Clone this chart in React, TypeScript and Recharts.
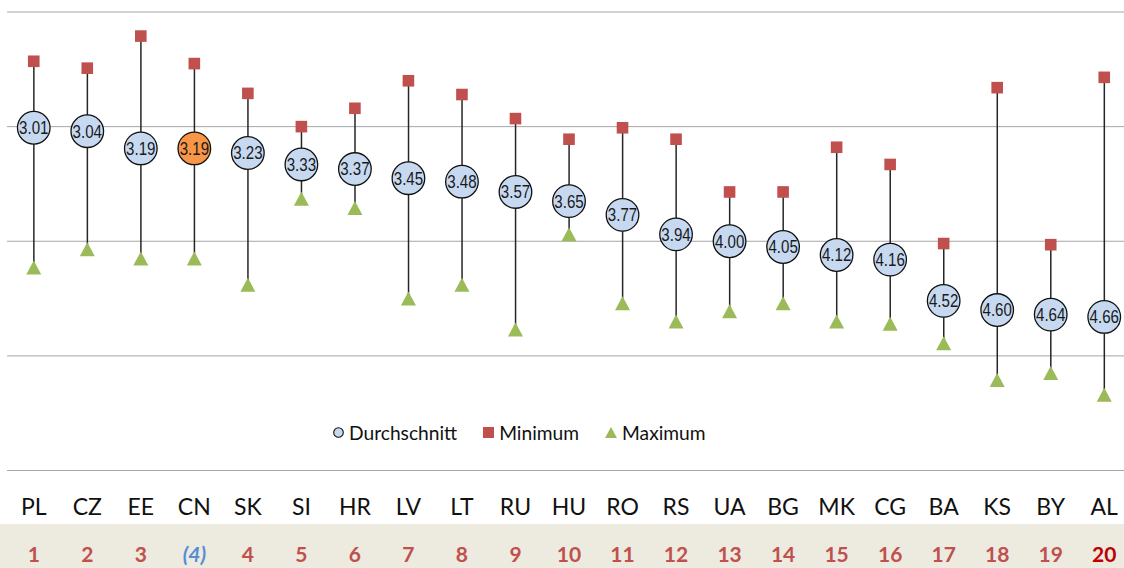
import React from 'react';
import { ComposedChart, Bar, Scatter, XAxis, YAxis, CartesianGrid, Legend } from 'recharts';

const categories = ['PL', 'CZ', 'EE', 'CN', 'SK', 'SI', 'HR', 'LV', 'LT', 'RU', 'HU', 'RO', 'RS', 'UA', 'BG', 'MK', 'CG', 'BA', 'KS', 'BY', 'AL'];
const ranks = ['1', '2', '3', '(4)', '4', '5', '6', '7', '8', '9', '10', '11', '12', '13', '14', '15', '16', '17', '18', '19', '20'];
const average = [3.01, 3.04, 3.19, 3.19, 3.23, 3.33, 3.37, 3.45, 3.48, 3.57, 3.65, 3.77, 3.94, 4.0, 4.05, 4.12, 4.16, 4.52, 4.6, 4.64, 4.66];
const minimum = [2.43, 2.49, 2.21, 2.45, 2.71, 3.0, 2.84, 2.6, 2.72, 2.93, 3.11, 3.01, 3.11, 3.57, 3.57, 3.18, 3.33, 4.02, 2.66, 4.03, 2.57];
const maximum = [4.23, 4.07, 4.15, 4.15, 4.38, 3.63, 3.71, 4.5, 4.38, 4.77, 3.94, 4.54, 4.7, 4.61, 4.54, 4.7, 4.72, 4.89, 5.21, 5.15, 5.34];
const yTicks = [2, 3, 4, 5, 6];
const highlight = 'CN';

const data = categories.map((cat, i) => ({
    cat,
    rank: ranks[i],
    avg: average[i],
    min: minimum[i],
    max: maximum[i],
    range: [minimum[i], maximum[i]],
}));

const RangeLine = (props: any) => {
    const { x, y, width, height } = props;
    const cx = x + width / 2;
    return <line x1={cx} x2={cx} y1={y} y2={y + height} stroke="#262626" strokeWidth={1.5} />;
};

const MinMarker = (props: any) => {
    const { cx, cy } = props;
    return <rect x={cx - 5.8} y={cy - 5.8} width={11.6} height={11.6} fill="#C0504D" />;
};

const MaxMarker = (props: any) => {
    const { cx, cy } = props;
    return <polygon points={`${cx},${cy - 7} ${cx - 7.5},${cy + 7} ${cx + 7.5},${cy + 7}`} fill="#9BBB59" />;
};

// narrow look: regular sans squeezed horizontally
const AvgMarker = (props: any) => {
    const { cx, cy, payload } = props;
    const fill = payload.cat === highlight ? '#F79646' : '#C6D9F1';
    return (
        <g>
            <circle cx={cx} cy={cy} r={16.3} fill={fill} stroke="#111" strokeWidth={1.3} />
            <text
                transform={`translate(${cx},${cy}) scale(0.84,1)`}
                x={0}
                y={0}
                dy={6.4}
                textAnchor="middle"
                fontSize={18}
                fontFamily="'Liberation Sans', Arial, sans-serif"
                fill="#1a1a1a"
            >
                {payload.avg.toFixed(2)}
            </text>
        </g>
    );
};

const CategoryTick = (props: any) => {
    const { x, y, payload } = props;
    const i = categories.indexOf(payload.value);
    const rank = ranks[i];
    let color = '#C0504D';
    if (rank === '20') color = '#C00000';
    if (rank === '(4)') color = '#558ED5';
    return (
        <g>
            <text x={x} y={y + 44.5} textAnchor="middle" fontSize={23} fill="#111" fontFamily="Lato">
                {payload.value}
            </text>
            <text
                x={x}
                y={y + 91.5}
                textAnchor="middle"
                fontSize={21}
                fontWeight="bold"
                fontStyle={rank === '(4)' ? 'italic' : 'normal'}
                fill={color}
                fontFamily="Lato"
            >
                {rank}
            </text>
        </g>
    );
};

const LegendContent = () => (
    <div style={{ display: 'flex', alignItems: 'center', fontFamily: 'Lato', fontSize: 19.2, color: '#111', whiteSpace: 'nowrap' }}>
        <svg width={11} height={11} style={{ marginRight: 5 }}>
            <circle cx={5.5} cy={5.5} r={4.8} fill="#C6D9F1" stroke="#111" strokeWidth={1.1} />
        </svg>
        <span style={{ marginRight: 26 }}>Durchschnitt</span>
        <svg width={11} height={11} style={{ marginRight: 5 }}>
            <rect x={0} y={0} width={11} height={11} fill="#C0504D" />
        </svg>
        <span style={{ marginRight: 26 }}>Minimum</span>
        <svg width={12} height={11} style={{ marginRight: 5 }}>
            <polygon points="6,0 0,11 12,11" fill="#9BBB59" />
        </svg>
        <span>Maximum</span>
    </div>
);

export default function App() {
    return (
        <div style={{ position: 'fixed', left: 0, top: 0, width: 1124, height: 568, overflow: 'hidden', background: '#fff' }}>
            <div style={{ position: 'absolute', left: 0, top: 524, width: 1124, height: 44, background: '#EDEAE0' }} />
            <div style={{ position: 'absolute', left: 0, top: 0 }}>
                <ComposedChart width={1131} height={568} data={data} margin={{ top: 12, right: 0, bottom: 0, left: 7 }}>
                    <CartesianGrid vertical={false} stroke="#A6A6A6" />
                    <XAxis
                        dataKey="cat"
                        interval={0}
                        axisLine={false}
                        tickLine={false}
                        tickSize={0}
                        tickMargin={0}
                        height={97.5}
                        tick={<CategoryTick />}
                    />
                    <YAxis type="number" domain={[2, 6]} ticks={yTicks} reversed hide />
                    <Legend
                        verticalAlign="middle"
                        align="center"
                        content={<LegendContent />}
                        wrapperStyle={{ position: 'absolute', top: 421, left: 333, width: 440, height: 24 }}
                    />
                    <Bar dataKey="range" shape={<RangeLine />} isAnimationActive={false} legendType="none" />
                    <Scatter dataKey="max" name="Maximum" shape={<MaxMarker />} isAnimationActive={false} />
                    <Scatter dataKey="min" name="Minimum" shape={<MinMarker />} isAnimationActive={false} />
                    <Scatter dataKey="avg" name="Durchschnitt" shape={<AvgMarker />} isAnimationActive={false} />
                </ComposedChart>
            </div>
        </div>
    );
}
